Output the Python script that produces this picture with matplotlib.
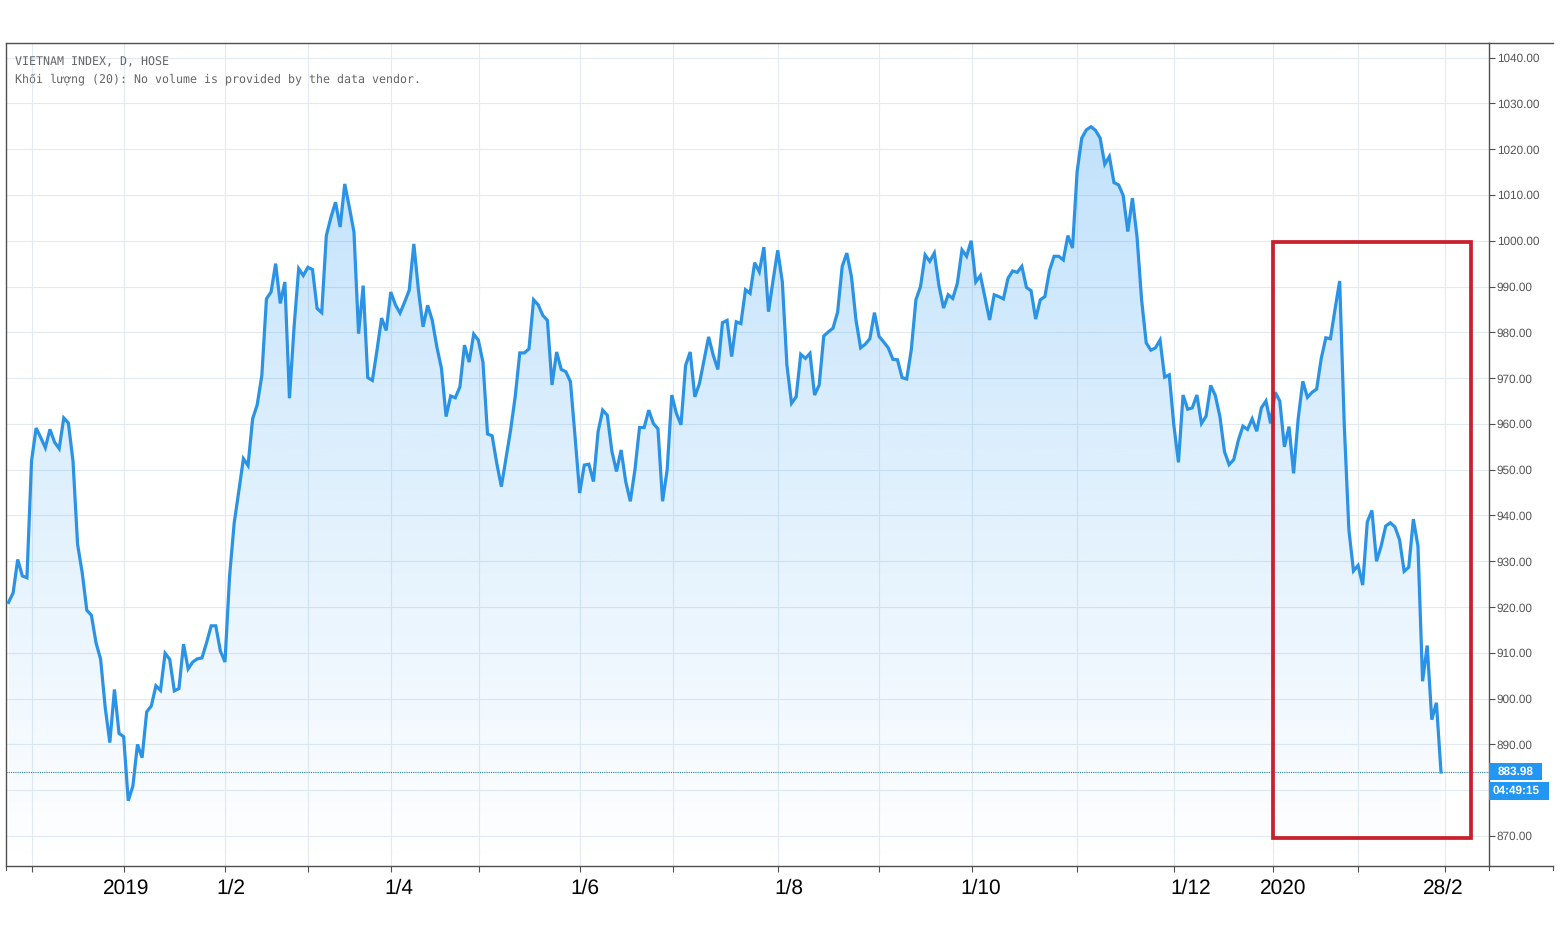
import numpy as np
import matplotlib
matplotlib.use("Agg")
import matplotlib.pyplot as plt
from matplotlib.lines import Line2D
from matplotlib.patches import Rectangle, Polygon
from matplotlib.transforms import Affine2D

plt.rcParams["text.hinting"] = "no_hinting"

# daily close
close_a = [921, 923.1, 930.4, 926.8, 926.4, 951.9, 959.1, 957, 954.8, 958.8,
           956, 954.6, 961.3, 960.2, 951.9, 933.7, 927.5, 919.3, 918.2, 912.2,
           908.6, 898, 890.4, 902, 892.4, 891.7, 877.7, 880.9, 890, 887.1,
           897.1, 898.4, 902.8, 901.8, 909.9, 908.6, 901.7, 902.2, 911.9, 906.5,
           908, 908.7, 908.9, 912.2, 915.9, 915.9, 910.4, 908, 926.8, 938.4,
           945.3, 952.4, 950.9, 961.1, 964.2]
close_b = [970.6, 987.3, 988.8, 995, 986.3, 991, 965.6, 981.2, 993.9, 992.4,
           994.2, 993.7, 985.2, 984.3, 1001.1, 1005.1, 1008.4, 1003, 1012.4, 1007.3,
           1001.9, 979.7, 990.2, 970.1, 969.5, 976.1, 983.1, 980.4, 988.8, 986,
           984.2, 986.6, 989.2, 999.3, 989.2, 981.2, 985.9, 982.6, 976.8, 972.1,
           961.6, 966.1, 965.7, 968.1, 977.2, 973.5, 979.6, 978.3, 973.5, 957.8,
           957.4, 951.4, 946.3, 952.5, 958.6, 965.9, 975.5, 975.5, 976.4, 987.1,
           986, 983.7, 982.6]
close_c = [968.5, 975.7, 971.9, 971.4, 969.2, 957.2, 944.9, 951, 951.2, 947.4,
           958.3, 963, 961.9, 954, 949.6, 954.3, 947.4, 943.1, 950, 959.2,
           959.2, 963, 960.1, 958.9, 943.1, 950, 966.3, 962.3, 959.8, 972.8,
           975.7, 965.9, 968.8, 973.9, 979, 975, 971.9, 982.1, 982.6, 974.7,
           982.3, 981.9, 989.3, 988.5, 995.2, 993.2, 998.6, 984.5, 991.4, 997.9,
           991, 972.8, 964.5, 965.9, 975.2, 974.3, 975.4, 966.3, 968.5, 979.2, 980.1]
close_d = [980.9, 984.4, 994.4, 997.3, 992.2, 982.6, 976.6, 977.4, 978.6, 984.3,
           979.1, 977.9, 976.6, 974.1, 974, 970.1, 969.8, 976.2, 987.1, 990,
           996.9, 995.5, 997.3, 990.2, 985.3, 988.2, 987.4, 990.7, 998, 996.6,
           1000, 991, 992.4, 987.5, 982.7, 988.2, 987.8, 987.3, 991.8, 993.4,
           993.1, 994.4, 989.8, 989.1, 982.9, 987.1, 987.8, 993.5, 996.6, 996.6,
           995.8, 1001.1, 998.4, 1015.1, 1022.4, 1024.2, 1024.9, 1024.1, 1022.4, 1016.7,
           1018.4, 1012.7, 1012.2, 1009.9, 1002, 1009.3, 1000.9, 987.1]
close_e = [977.7, 976.1, 976.6, 978.3, 970.2, 970.7, 959.7, 951.6, 966.3, 963.2,
           963.5, 966.3, 960.1, 961.7, 968.4, 966.2, 961.6, 953.9, 951.1, 952.2,
           956.4, 959.5, 958.8, 961.1, 958.4, 963.5, 965, 960.1, 966.9, 965,
           955, 959.4, 949.2, 961.2, 969.3, 965.8, 966.9, 967.6, 974.3, 978.8,
           978.6, 985.1, 991.2, 959.7, 936.9, 927.9, 929.1, 924.8, 938.6, 941.1,
           930, 933.3, 937.7, 938.4, 937.5, 934.7, 927.8, 928.7, 939.2, 933.3,
           903.8, 911.6, 895.4, 899.1, 883.98]
close = close_a + close_b + close_c + close_d + close_e

y_ticks = list(range(870, 1050, 10))
x_grid = [5.1, 25.1, 47, 65, 83, 102.1, 124.1, 144.3, 167.1, 189, 209.1,
          232, 253, 274.5, 293, 311.9]
x_labels = ["2019", "1/2", "1/4", "1/6", "1/8", "1/10", "1/12", "2020", "28/2"]
x_label_px = [126, 231, 399, 585, 789, 981, 1191, 1283, 1443]
last_price = 883.98

W, H = 1560, 930
LINE = "#2a93e6"
GRID = "#e3ebf0"
EDGE = "#505050"
HEADER_FONT = ["DejaVu Sans Mono", "Liberation Mono", "DejaVu Sans"]

fig = plt.figure(figsize=(W / 100, H / 100), dpi=100)
ax = fig.add_axes([6 / W, (H - 866) / H, 1483 / W, 823 / H])
# pixel transform for the bits that live outside the plot
px = Affine2D().scale(1, -1).translate(0, H)

n = len(close)
xs = np.arange(n)
dx = (1441 - 8.5) / (n - 1)

ax.set_axisbelow(True)
ax.grid(True, color=GRID, linewidth=0.8)
ax.set_xticks(x_grid)
ax.set_xticklabels([])
ax.set_yticks(y_ticks)
# 880.00 sits behind the countdown badge in the original
ax.set_yticklabels(["" if v == 880 else "%.2f" % v for v in y_ticks], family="Liberation Sans",
                   fontsize=8.5, color="#555555")
ax.yaxis.tick_right()
ax.tick_params(axis="x", length=4, width=0.8, color=EDGE)
ax.tick_params(axis="y", length=4, width=0.8, color=EDGE, pad=1.5)
for s in ax.spines.values():
    s.set_color(EDGE)
    s.set_linewidth(1.0)

# gradient area under the line
grad = np.zeros((256, 1, 4))
grad[:, :, 0] = 33 / 255
grad[:, :, 1] = 150 / 255
grad[:, :, 2] = 243 / 255
grad[:, 0, 3] = np.linspace(0.28, 0.0, 256)
im = ax.imshow(grad, extent=[0, n - 1, 863.45, 1026], aspect="auto", origin="upper", zorder=1)
poly = Polygon(np.column_stack([np.r_[xs, n - 1, 0], np.r_[close, 863.45, 863.45]]),
               transform=ax.transData, fc="none", ec="none")
ax.add_patch(poly)
im.set_clip_path(poly)
ax.set_xlim(-2.5 / dx, (1489 - 8.5) / dx)
ax.set_ylim(863.45, 1043.18)

ax.plot(xs, close, color=LINE, linewidth=2.3, solid_joinstyle="miter", zorder=3)
ax.axhline(last_price, color="#2a7f9f", linewidth=0.8, linestyle=(0, (1, 1)), zorder=2)

# header
ax.text(15, 62, "VIETNAM INDEX, D, HOSE", transform=px, family=HEADER_FONT,
        fontsize=8.35, color="#666666", va="center")
ax.text(15, 79.5, "Khối lượng (20): No volume is provided by the data vendor.", transform=px,
        family=HEADER_FONT, fontsize=8.35, color="#666666", va="center")

# price axis bits: top and bottom lines run on past the panel
fig.add_artist(Line2D([1489, 1553], [43, 43], transform=px, color=EDGE, lw=1.0))
fig.add_artist(Line2D([1489, 1553], [866, 866], transform=px, color=EDGE, lw=1.0))
fig.add_artist(Line2D([1553, 1553], [866, 870], transform=px, color=EDGE, lw=0.8))
fig.add_artist(Line2D([1489, 1489], [866, 870], transform=px, color=EDGE, lw=0.8))
fig.add_artist(Line2D([6, 6], [866, 870], transform=px, color=EDGE, lw=0.8))

# badges
fig.add_artist(Rectangle((1489, 763), 53, 17, transform=px, fc="#2196f3", ec="none"))
fig.add_artist(Rectangle((1489, 782), 60, 18, transform=px, fc="#2196f3", ec="none"))
fig.text(1498, 772, "%.2f" % last_price, transform=px, family="Liberation Sans", fontsize=8.5,
         color="white", fontweight="bold", va="center")
fig.text(1493, 791, "04:49:15", transform=px, family="Liberation Sans", fontsize=8.5,
         color="white", fontweight="bold", va="center")

# hand drawn box and date labels on top of the screenshot
fig.add_artist(Rectangle((1273, 242), 198, 596, transform=px, fc="none", ec="#c8202c", lw=2.7,
                         joinstyle="miter"))
for lab, x in zip(x_labels, x_label_px):
    fig.text(x, 888, lab, transform=px, family="Liberation Sans", fontsize=15,
             color="black", ha="center", va="center")

fig.savefig("out.png", dpi=100)
